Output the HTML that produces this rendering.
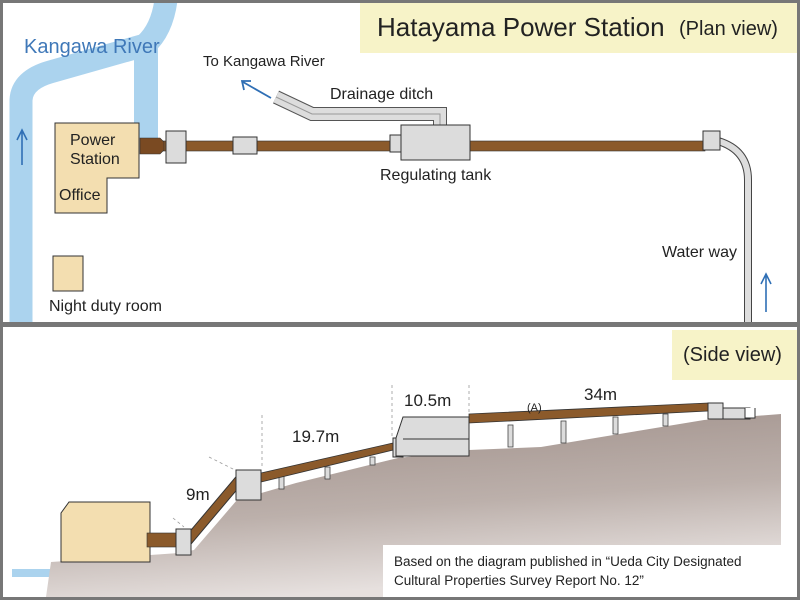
<!DOCTYPE html>
<html><head><meta charset="utf-8"><style>
html,body{margin:0;padding:0;background:#fff}
svg{display:block}
text{font-family:"Liberation Sans",sans-serif;fill:#222}
</style></head><body>
<svg width="800" height="600" viewBox="0 0 800 600" xmlns="http://www.w3.org/2000/svg">
<defs>
<linearGradient id="hill" x1="0" y1="0" x2="0.3" y2="1">
<stop offset="0" stop-color="#9c8c86"/><stop offset="0.6" stop-color="#bcb0ab"/><stop offset="1" stop-color="#e6e0de"/>
</linearGradient>
</defs>
<rect x="0" y="0" width="800" height="600" fill="#fff"/>
<!-- river -->
<path d="M21,324 L21,100 Q22,80 50,72 L145,45 Q162,30 166,0" fill="none" stroke="#abd3ee" stroke-width="23"/>
<rect x="134" y="40" width="24" height="98" fill="#abd3ee"/>
<text x="24" y="53" font-size="20" style="fill:#3f78b8">Kangawa River</text>
<path d="M22,165 L22,132 M17,140 L22,130 L27,140" stroke="#2f6fb5" stroke-width="1.6" fill="none"/>
<!-- title -->
<rect x="360" y="2" width="437" height="51" fill="#f7f3c8"/>
<text x="377" y="36" font-size="26">Hatayama Power Station</text>
<text x="679" y="35" font-size="20">(Plan view)</text>
<!-- buildings -->
<polygon points="55,123 139,123 139,178 107,178 107,213 55,213" fill="#f3deb0" stroke="#333" stroke-width="1"/>
<text x="70" y="145" font-size="16">Power</text>
<text x="70" y="164" font-size="16">Station</text>
<text x="59" y="200" font-size="16">Office</text>
<rect x="53" y="256" width="30" height="35" fill="#f3deb0" stroke="#333" stroke-width="1"/>
<text x="49" y="311" font-size="16">Night duty room</text>
<!-- ditch -->
<path d="M276,97 L312,114 L440,114 L440,126" fill="none" stroke="#555" stroke-width="14"/>
<path d="M276,97 L312,114 L440,114 L440,126" fill="none" stroke="#ddd" stroke-width="12"/>
<path d="M276,97 L312,114 L440,114 L440,126" fill="none" stroke="#999" stroke-width="1"/>
<path d="M271,98 L243,82 M244,90 L242,81 L251,81" stroke="#2f6fb5" stroke-width="1.8" fill="none"/>
<text x="203" y="66" font-size="15">To Kangawa River</text>
<text x="330" y="99" font-size="16">Drainage ditch</text>
<!-- pipe -->
<rect x="145" y="141" width="560" height="10" fill="#8b5a2b" stroke="#333" stroke-width="0.6"/>
<path d="M140,138 L160,138 L164,142 L164,150 L160,154 L140,154 Z" fill="#7a4a22" stroke="#333" stroke-width="0.6"/>
<rect x="166" y="131" width="20" height="32" fill="#dcdcdc" stroke="#333"/>
<rect x="233" y="137" width="24" height="17" fill="#dcdcdc" stroke="#333"/>
<rect x="390" y="135" width="12" height="17" fill="#dcdcdc" stroke="#333"/>
<rect x="401" y="125" width="69" height="35" fill="#dcdcdc" stroke="#333"/>
<text x="380" y="180" font-size="16">Regulating tank</text>
<!-- waterway -->
<path d="M718,141 Q748,150 748,180 L748,324" fill="none" stroke="#444" stroke-width="8"/>
<path d="M718,141 Q748,150 748,180 L748,324" fill="none" stroke="#ddd" stroke-width="6"/>
<rect x="703" y="131" width="17" height="19" fill="#dcdcdc" stroke="#333"/>
<text x="662" y="257" font-size="16">Water way</text>
<path d="M766,312 L766,276 M761,284 L766,274 L771,284" stroke="#2f6fb5" stroke-width="1.6" fill="none"/>
<!-- divider -->
<rect x="0" y="322" width="800" height="5" fill="#777"/>
<!-- side view -->
<rect x="672" y="330" width="125" height="50" fill="#f7f3c8"/>
<text x="683" y="361" font-size="20">(Side view)</text>
<rect x="12" y="569" width="40" height="8" fill="#abd3ee"/>
<polygon points="46,597 51,562 179,553 194,550 237,500 296,483 398,458 469,450 541,447 704,420 781,414 781,597" fill="url(#hill)"/>
<!-- house -->
<polygon points="69,502 150,502 150,562 61,562 61,513" fill="#f3deb0" stroke="#333" stroke-width="1"/>
<rect x="147" y="533" width="30" height="14" fill="#8b5a2b" stroke="#333" stroke-width="0.6"/>
<!-- posts -->
<g fill="#dcdcdc" stroke="#444" stroke-width="0.8">
<rect x="279" y="474" width="5" height="15"/><rect x="325" y="467" width="5" height="12"/><rect x="370" y="457" width="5" height="8"/>
<rect x="508" y="425" width="5" height="22"/><rect x="561" y="421" width="5" height="22"/><rect x="613" y="417" width="5" height="17"/><rect x="663" y="414" width="5" height="12"/>
</g>
<!-- pipes -->
<path d="M186,543 L240,479" stroke="#333" stroke-width="10" fill="none"/>
<path d="M186,543 L240,479" stroke="#8b5a2b" stroke-width="8" fill="none"/>
<polygon points="261,473 393,443 393,450 261,482" fill="#8b5a2b" stroke="#333" stroke-width="0.8"/>
<polygon points="469,414 708,403 708,411 469,423" fill="#8b5a2b" stroke="#333" stroke-width="0.8"/>
<rect x="176" y="529" width="15" height="26" fill="#dcdcdc" stroke="#333"/>
<rect x="236" y="470" width="25" height="30" fill="#dcdcdc" stroke="#333"/>
<rect x="393" y="438" width="10" height="19" fill="#dcdcdc" stroke="#333"/>
<polygon points="403,417 469,417 469,456 396,456 396,438" fill="#dcdcdc" stroke="#333"/>
<line x1="403" y1="439" x2="469" y2="439" stroke="#333"/>
<rect x="708" y="403" width="15" height="16" fill="#dcdcdc" stroke="#333"/>
<path d="M723,408 L750,408 L750,419 L723,419 Z" fill="#dcdcdc" stroke="#333"/>
<path d="M745,408 L745,418 L755,418 L755,408" fill="#fff" stroke="#333"/>
<!-- dashed -->
<g stroke="#999" stroke-width="0.8" stroke-dasharray="3,3" fill="none">
<line x1="262" y1="415" x2="262" y2="468"/><line x1="392" y1="385" x2="392" y2="436"/><line x1="469" y1="385" x2="469" y2="414"/>
<line x1="209" y1="457" x2="235" y2="470"/><line x1="173" y1="518" x2="184" y2="527"/>
</g>
<text x="186" y="500" font-size="17">9m</text>
<text x="292" y="442" font-size="17">19.7m</text>
<text x="404" y="406" font-size="17">10.5m</text>
<text x="527" y="411" font-size="11">(A)</text>
<text x="584" y="400" font-size="17">34m</text>
<rect x="383" y="545" width="398" height="52" fill="#fff"/>
<text x="394" y="566" font-size="13.5">Based on the diagram published in “Ueda City Designated</text>
<text x="394" y="585" font-size="13.5">Cultural Properties Survey Report No. 12”</text>
<!-- border -->
<rect x="1.5" y="1.5" width="797" height="597" fill="none" stroke="#777" stroke-width="3"/>
</svg>
</body></html>
